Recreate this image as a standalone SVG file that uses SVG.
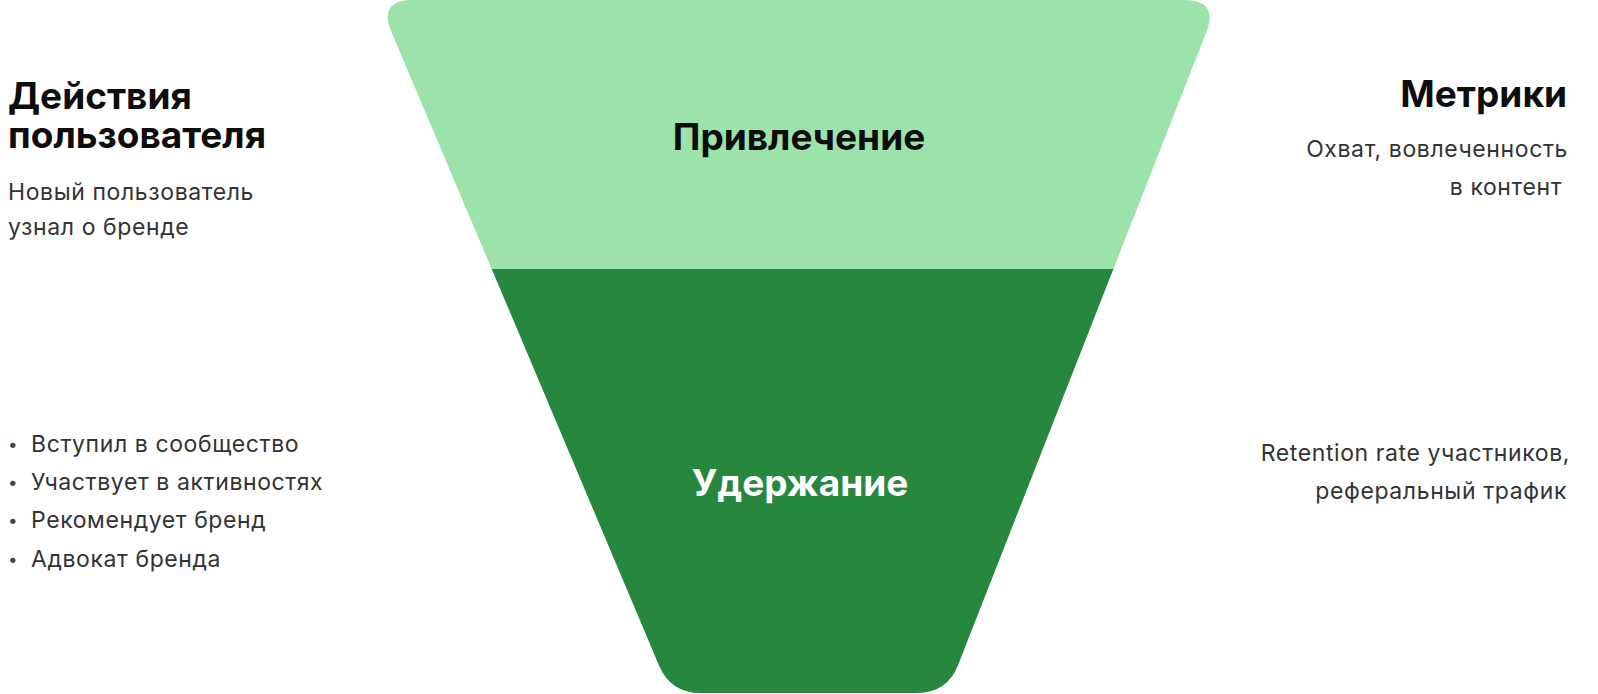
<svg xmlns="http://www.w3.org/2000/svg" width="1598" height="694" viewBox="0 0 1598 694">
<style>
  .h { font-family: Inter, "Liberation Sans", sans-serif; font-weight: 700; font-size: 37px; fill: #0d0d0d; }
  .t { font-family: Inter, "Liberation Sans", sans-serif; font-weight: 400; font-size: 23px; letter-spacing: 0.6px; fill: #333333; }
  .b { font-family: Inter, "Liberation Sans", sans-serif; font-size: 17px; fill: #444444; }
  .lab { font-family: Inter, "Liberation Sans", sans-serif; font-weight: 700; font-size: 37px; text-anchor: middle; }
  .r { text-anchor: end; }
</style>
<rect width="1598" height="694" fill="#ffffff"/>
<g id="funnel">
  <g id="stage-attraction">
    <path d="M413,0 L1184,0 Q1219,0 1206.2,32.6 L1113.4,269 L491.7,269 L391.6,32.2 Q378,0 413,0 Z" fill="#9ce3ab"/>
    <text class="lab" x="799" y="150" fill="#0d0d0d">Привлечение</text>
  </g>
  <g id="stage-retention">
    <path d="M491.7,269 L1113.4,269 L958.1,665.1 Q947.2,693 917.2,693 L700.7,693 Q670.7,693 659,665.4 Z" fill="#27873f"/>
    <text class="lab" x="800" y="496" fill="#ffffff">Удержание</text>
  </g>
</g>
<g id="user-actions">
  <text class="h" x="8" y="109">Действия</text>
  <text class="h" x="8" y="148">пользователя</text>
  <text class="t" x="8" y="200">Новый пользователь</text>
  <text class="t" x="8" y="235">узнал о бренде</text>
</g>
<g id="user-actions-retention">
  <text class="b" x="8" y="450">•</text>
  <text class="t" x="31" y="452">Вступил в сообщество</text>
  <text class="b" x="8" y="488">•</text>
  <text class="t" x="31" y="490">Участвует в активностях</text>
  <text class="b" x="8" y="526">•</text>
  <text class="t" x="31" y="528">Рекомендует бренд</text>
  <text class="b" x="8" y="565">•</text>
  <text class="t" x="31" y="567">Адвокат бренда</text>
</g>
<g id="metrics">
  <text class="h r" x="1567" y="107">Метрики</text>
  <text class="t r" x="1568" y="157">Охват, вовлеченность</text>
  <text class="t r" x="1562" y="195">в контент</text>
</g>
<g id="metrics-retention">
  <text class="t r" x="1570" y="461">Retention rate участников,</text>
  <text class="t r" x="1567" y="499">реферальный трафик</text>
</g>
<g id="connectors"></g>
</svg>
